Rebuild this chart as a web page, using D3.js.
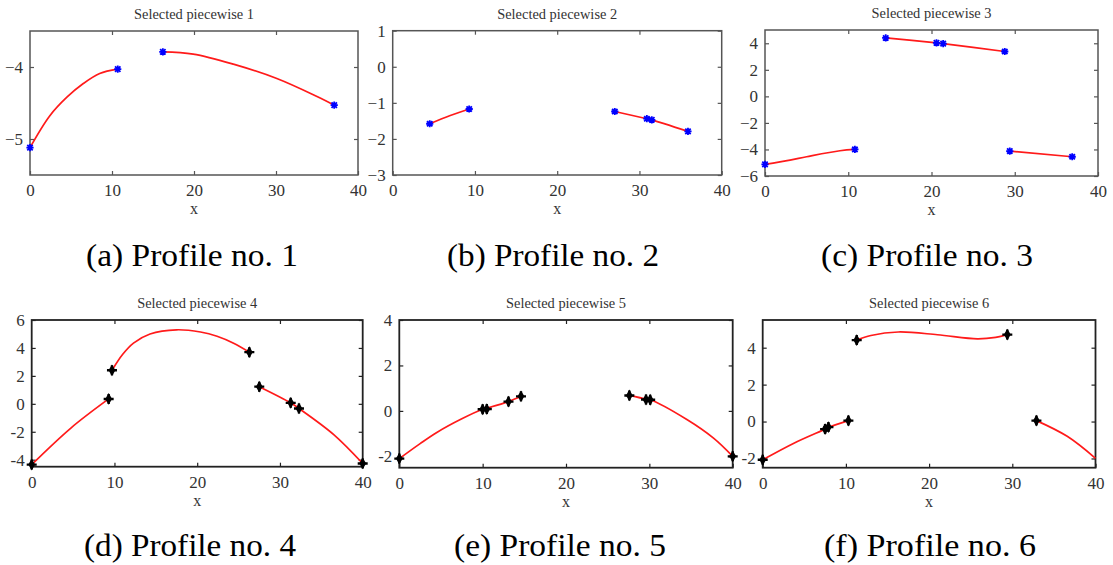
<!DOCTYPE html>
<html>
<head>
<meta charset="utf-8">
<script src="https://cdn.jsdelivr.net/npm/d3@7"></script>
<style>
  html, body { margin: 0; padding: 0; background: #fff; }
  svg { display: block; }
  svg text { font-family: "Liberation Serif", Tinos, "Times New Roman", Times, "Nimbus Roman", "FreeSerif", "DejaVu Serif", "Noto Serif", serif; }
</style>
</head>
<body>
<svg id="chart" width="1113" height="565"></svg>
<script>
// ---------------- DATA ----------------
const xTicks = [0, 10, 20, 30, 40];

const titles = ["Selected piecewise 1", "Selected piecewise 2", "Selected piecewise 3",
                "Selected piecewise 4", "Selected piecewise 5", "Selected piecewise 6"];
const captions = ["(a) Profile no. 1", "(b) Profile no. 2", "(c) Profile no. 3",
                  "(d) Profile no. 4", "(e) Profile no. 5", "(f) Profile no. 6"];

const yDomains = [[-5.5, -3.5], [-3, 1], [-6, 5], [-4.5, 6], [-2.5, 4], [-2.5, 5.5]];
const yTicks1 = [-5, -4];
const yTicks2 = [-3, -2, -1, 0, 1];
const yTicks3 = [-6, -4, -2, 0, 2, 4];
const yTicks4 = [-4, -2, 0, 2, 4, 6];
const yTicks5 = [-2, 0, 2, 4];
const yTicks6 = [-2, 0, 2, 4];

// Profile 1
const markers1 = [[0, -5.12], [10.7, -4.03], [16.2, -3.79], [37.1, -4.53]];
const curves1 = [
  [[0, -5.12], [2.4, -4.68], [4.5, -4.42], [6.5, -4.23], [8.5, -4.09], [10.7, -4.03]],
  [[16.2, -3.79], [19.9, -3.82], [24.8, -3.96], [30.1, -4.16], [35, -4.41], [37.1, -4.53]]
];
// Profile 2
const markers2 = [[4.5, -1.58], [9.3, -1.17], [27.0, -1.24], [30.9, -1.44], [31.5, -1.47], [35.9, -1.79]];
const curves2 = [
  [[4.5, -1.58], [7, -1.35], [9.3, -1.17]],
  [[27.0, -1.24], [30.9, -1.44], [31.5, -1.47], [35.9, -1.79]]
];
// Profile 3
const markers3 = [[0, -5.12], [10.8, -4.0], [14.5, 4.4], [20.6, 4.03], [21.4, 3.97], [28.8, 3.38], [29.4, -4.12], [36.9, -4.55]];
const curves3 = [
  [[0, -5.12], [3, -4.8], [5, -4.55], [9, -4.1], [10.8, -4.0]],
  [[14.5, 4.4], [20.6, 4.03], [21.4, 3.97], [28.8, 3.38]],
  [[29.4, -4.12], [36.9, -4.55]]
];
// Profile 4
const markers4 = [[0, -4.35], [9.3, 0.35], [9.7, 2.4], [26.3, 3.7], [27.5, 1.23], [31.3, 0.07], [32.3, -0.33], [40, -4.27]];
const curves4 = [
  [[0, -4.35], [4.7, -1.75], [9.3, 0.35]],
  [[9.7, 2.4], [11.0, 3.55], [12.3, 4.35], [14.3, 5.0], [17.5, 5.3], [20.4, 5.14], [22.4, 4.84], [24.4, 4.34], [26.3, 3.7]],
  [[27.5, 1.23], [31.3, 0.07], [32.3, -0.33], [36.5, -2.2], [40, -4.27]]
];
// Profile 5
const markers5 = [[0, -2.1], [10.0, 0.07], [10.5, 0.08], [13.1, 0.41], [14.6, 0.64], [27.6, 0.68], [29.6, 0.5], [30.1, 0.49], [40, -2.0]];
const curves5 = [
  [[0, -2.1], [2.5, -1.44], [4.5, -0.95], [7.5, -0.35], [10.0, 0.07], [10.5, 0.12], [13.1, 0.41], [14.6, 0.64]],
  [[27.6, 0.68], [29.6, 0.52], [30.1, 0.49], [34.5, -0.38], [37.7, -1.2], [40, -2.0]]
];
// Profile 6
const markers6 = [[0, -2.07], [7.5, -0.41], [7.9, -0.3], [10.3, 0.05], [11.3, 4.41], [29.4, 4.71], [32.9, 0.05]];
const curves6 = [
  [[0, -2.07], [3.75, -1.17], [7.5, -0.41], [7.9, -0.32], [10.3, 0.05]],
  [[11.3, 4.41], [13, 4.66], [16.3, 4.85], [21, 4.7], [25.8, 4.48], [28, 4.56], [29.4, 4.71]],
  [[32.9, 0.05], [36.6, -0.8], [40, -1.99]]
];

const allYTicks = [yTicks1, yTicks2, yTicks3, yTicks4, yTicks5, yTicks6];
const allMarkers = [markers1, markers2, markers3, markers4, markers5, markers6];
const allCurves = [curves1, curves2, curves3, curves4, curves5, curves6];

// ---------------- LAYOUT ----------------
const boxes = [
  {x0: 30,    x1: 358,    y0: 31,  y1: 175},
  {x0: 392.7, x1: 721.7,  y0: 30.7, y1: 175},
  {x0: 765,   x1: 1098,   y0: 30,  y1: 176},
  {x0: 31.7,  x1: 362.7,  y0: 320, y1: 466.7},
  {x0: 399.3, x1: 732.7,  y0: 320, y1: 467.7},
  {x0: 762.7, x1: 1095.5, y0: 320, y1: 467.7}
];
const captionX = [192, 553, 927, 190, 560, 930];
const FONT = '"Liberation Serif", Tinos, "Times New Roman", Times, "Nimbus Roman", FreeSerif, "DejaVu Serif", "Noto Serif", serif';

const svg = d3.select("#chart");

boxes.forEach((b, i) => {
  const top = i < 3;
  const x = d3.scaleLinear().domain([0, 40]).range([b.x0, b.x1]);
  const y = d3.scaleLinear().domain(yDomains[i]).range([b.y1, b.y0]);
  const g = svg.append("g");
  const boxColor = top ? "#555" : "#222";
  const fmt = top ? d3.format("") : (d => String(d));

  const styleAxis = sel => {
    sel.attr("font-family", FONT);
    sel.select(".domain").remove();
    sel.selectAll(".tick line").attr("stroke", boxColor).attr("stroke-width", 1.2);
    sel.selectAll(".tick text").attr("fill", "#333").attr("font-size", 17)
       .attr("font-family", FONT);
  };

  g.append("g").attr("transform", `translate(0,${b.y1})`)
    .call(d3.axisBottom(x).tickValues(xTicks).tickSize(-4).tickPadding(9).tickFormat(d3.format("")))
    .call(styleAxis);
  g.append("g").attr("transform", `translate(0,${b.y0})`)
    .call(d3.axisTop(x).tickValues(xTicks.slice(1, -1)).tickSize(-4).tickFormat(""))
    .call(styleAxis);
  g.append("g").attr("transform", `translate(${b.x0},0)`)
    .call(d3.axisLeft(y).tickValues(allYTicks[i]).tickSize(-4).tickPadding(7).tickFormat(fmt))
    .call(styleAxis);
  g.append("g").attr("transform", `translate(${b.x1},0)`)
    .call(d3.axisRight(y).tickValues(allYTicks[i]).tickSize(-4).tickFormat(""))
    .call(styleAxis);

  g.append("rect")
    .attr("x", b.x0).attr("y", b.y0)
    .attr("width", b.x1 - b.x0).attr("height", b.y1 - b.y0)
    .attr("fill", "none").attr("stroke", boxColor).attr("stroke-width", top ? 1.5 : 1.8);

  // curves
  const line = d3.line().x(d => x(d[0])).y(d => y(d[1])).curve(d3.curveCatmullRom.alpha(0.5));
  g.selectAll("path.curve").data(allCurves[i]).join("path")
    .attr("class", "curve")
    .attr("d", line)
    .attr("fill", "none").attr("stroke", "#ff1a1a").attr("stroke-width", 1.7);

  // markers
  const mk = g.selectAll("g.mk").data(allMarkers[i]).join("g")
    .attr("class", "mk")
    .attr("transform", d => `translate(${x(d[0])},${y(d[1])})`);
  if (top) {
    const r = 3.6;
    mk.append("path")
      .attr("d", `M${-r},0L${r},0M0,${-r}L0,${r}M${-r*0.75},${-r*0.75}L${r*0.75},${r*0.75}M${-r*0.75},${r*0.75}L${r*0.75},${-r*0.75}`)
      .attr("stroke", "#0000ff").attr("stroke-width", 1.8).attr("fill", "none");
  } else {
    mk.append("path").attr("d", d3.symbol(d3.symbolDiamond, 40)())
      .attr("fill", "#000");
    mk.append("path").attr("d", "M-5,0L5,0M0,-5L0,5")
      .attr("stroke", "#000").attr("stroke-width", 2.4);
  }

  // title
  g.append("text")
    .attr("x", (b.x0 + b.x1) / 2).attr("y", b.y0 - 12)
    .attr("text-anchor", "middle")
    .attr("fill", "#333")
    .attr("font-family", FONT)
    .attr("font-size", 15)
    .attr("textLength", 120).attr("lengthAdjust", "spacingAndGlyphs")
    .text(titles[i]);

  // x label
  g.append("text")
    .attr("x", (b.x0 + b.x1) / 2).attr("y", b.y1 + 39)
    .attr("text-anchor", "middle")
    .attr("fill", "#333")
    .attr("font-family", FONT)
    .attr("font-size", 16)
    .text("x");

  // caption
  svg.append("text")
    .attr("x", captionX[i]).attr("y", top ? 266 : 556)
    .attr("text-anchor", "middle")
    .attr("fill", "#000")
    .attr("font-family", FONT)
    .attr("font-size", 32)
    .attr("textLength", 212).attr("lengthAdjust", "spacingAndGlyphs")
    .text(captions[i]);
});
</script>
</body>
</html>
